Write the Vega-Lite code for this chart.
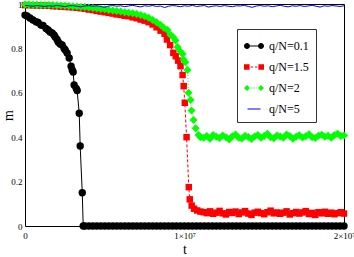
{
  "$schema": "https://vega.github.io/schema/vega-lite/v6.json",
  "width": 319,
  "height": 222,
  "autosize": {"type": "none"},
  "padding": {"left": 25, "top": 4, "right": 10, "bottom": 31},
  "background": "#ffffff",
  "config": {
    "font": "Liberation Serif",
    "view": {"stroke": "#000000", "strokeWidth": 1}
  },
  "datasets": {
    "a": [
      {"t": 0, "m": 0.95}, {"t": 0.13e6, "m": 0.946}, {"t": 0.31e6, "m": 0.937}, {"t": 0.5e6, "m": 0.928},
      {"t": 0.69e6, "m": 0.92}, {"t": 0.82e6, "m": 0.917}, {"t": 1.0e6, "m": 0.905}, {"t": 1.13e6, "m": 0.903},
      {"t": 1.32e6, "m": 0.89}, {"t": 1.45e6, "m": 0.883}, {"t": 1.57e6, "m": 0.874}, {"t": 1.7e6, "m": 0.869},
      {"t": 1.82e6, "m": 0.86}, {"t": 1.89e6, "m": 0.851}, {"t": 2.01e6, "m": 0.84}, {"t": 2.08e6, "m": 0.829},
      {"t": 2.2e6, "m": 0.82}, {"t": 2.33e6, "m": 0.815}, {"t": 2.45e6, "m": 0.8}, {"t": 2.52e6, "m": 0.793},
      {"t": 2.64e6, "m": 0.779}, {"t": 2.77e6, "m": 0.757}, {"t": 2.89e6, "m": 0.72}, {"t": 2.96e6, "m": 0.703},
      {"t": 3.02e6, "m": 0.694}, {"t": 3.08e6, "m": 0.635}, {"t": 3.21e6, "m": 0.62}, {"t": 3.27e6, "m": 0.61},
      {"t": 3.4e6, "m": 0.508}, {"t": 3.46e6, "m": 0.36}, {"t": 3.59e6, "m": 0.15}, {"t": 3.65e6, "m": 0},
      {"t": 3.75e6, "m": 0}, {"t": 4e6, "m": 0}, {"t": 4.25e6, "m": 0}, {"t": 4.5e6, "m": 0}, {"t": 4.75e6, "m": 0},
      {"t": 5e6, "m": 0}, {"t": 5.25e6, "m": 0}, {"t": 5.5e6, "m": 0}, {"t": 5.75e6, "m": 0}, {"t": 6e6, "m": 0},
      {"t": 6.25e6, "m": 0}, {"t": 6.5e6, "m": 0}, {"t": 6.75e6, "m": 0}, {"t": 7e6, "m": 0}, {"t": 7.25e6, "m": 0},
      {"t": 7.5e6, "m": 0}, {"t": 7.75e6, "m": 0}, {"t": 8e6, "m": 0}, {"t": 8.25e6, "m": 0}, {"t": 8.5e6, "m": 0},
      {"t": 8.75e6, "m": 0}, {"t": 9e6, "m": 0}, {"t": 9.25e6, "m": 0}, {"t": 9.5e6, "m": 0}, {"t": 9.75e6, "m": 0},
      {"t": 10e6, "m": 0}, {"t": 10.25e6, "m": 0}, {"t": 10.5e6, "m": 0}, {"t": 10.75e6, "m": 0}, {"t": 11e6, "m": 0},
      {"t": 11.25e6, "m": 0}, {"t": 11.5e6, "m": 0}, {"t": 11.75e6, "m": 0}, {"t": 12e6, "m": 0}, {"t": 12.25e6, "m": 0},
      {"t": 12.5e6, "m": 0}, {"t": 12.75e6, "m": 0}, {"t": 13e6, "m": 0}, {"t": 13.25e6, "m": 0}, {"t": 13.5e6, "m": 0},
      {"t": 13.75e6, "m": 0}, {"t": 14e6, "m": 0}, {"t": 14.25e6, "m": 0}, {"t": 14.5e6, "m": 0}, {"t": 14.75e6, "m": 0},
      {"t": 15e6, "m": 0}, {"t": 15.25e6, "m": 0}, {"t": 15.5e6, "m": 0}, {"t": 15.75e6, "m": 0}, {"t": 16e6, "m": 0},
      {"t": 16.25e6, "m": 0}, {"t": 16.5e6, "m": 0}, {"t": 16.75e6, "m": 0}, {"t": 17e6, "m": 0}, {"t": 17.25e6, "m": 0},
      {"t": 17.5e6, "m": 0}, {"t": 17.75e6, "m": 0}, {"t": 18e6, "m": 0}, {"t": 18.25e6, "m": 0}, {"t": 18.5e6, "m": 0},
      {"t": 18.75e6, "m": 0}, {"t": 19e6, "m": 0}, {"t": 19.25e6, "m": 0}, {"t": 19.5e6, "m": 0}, {"t": 19.75e6, "m": 0},
      {"t": 20e6, "m": 0}
    ],
    "b": [
      {"t": 0, "m": 0.995}, {"t": 0.25e6, "m": 0.995}, {"t": 0.5e6, "m": 0.994}, {"t": 0.75e6, "m": 0.994},
      {"t": 1e6, "m": 0.993}, {"t": 1.25e6, "m": 0.993}, {"t": 1.5e6, "m": 0.992}, {"t": 1.75e6, "m": 0.99},
      {"t": 2e6, "m": 0.99}, {"t": 2.25e6, "m": 0.988}, {"t": 2.5e6, "m": 0.987}, {"t": 2.75e6, "m": 0.986},
      {"t": 3e6, "m": 0.985}, {"t": 3.25e6, "m": 0.983}, {"t": 3.5e6, "m": 0.981}, {"t": 3.75e6, "m": 0.979},
      {"t": 4e6, "m": 0.975}, {"t": 4.25e6, "m": 0.973}, {"t": 4.5e6, "m": 0.969}, {"t": 4.75e6, "m": 0.966},
      {"t": 5e6, "m": 0.963}, {"t": 5.25e6, "m": 0.96}, {"t": 5.5e6, "m": 0.957}, {"t": 5.75e6, "m": 0.953},
      {"t": 6e6, "m": 0.951}, {"t": 6.25e6, "m": 0.947}, {"t": 6.5e6, "m": 0.945}, {"t": 6.75e6, "m": 0.94},
      {"t": 7e6, "m": 0.936}, {"t": 7.25e6, "m": 0.93}, {"t": 7.5e6, "m": 0.925}, {"t": 7.75e6, "m": 0.918},
      {"t": 8e6, "m": 0.908}, {"t": 8.25e6, "m": 0.895}, {"t": 8.5e6, "m": 0.88}, {"t": 8.75e6, "m": 0.866},
      {"t": 8.9e6, "m": 0.84}, {"t": 9.1e6, "m": 0.815}, {"t": 9.3e6, "m": 0.78}, {"t": 9.45e6, "m": 0.765},
      {"t": 9.6e6, "m": 0.745}, {"t": 9.75e6, "m": 0.72}, {"t": 9.88e6, "m": 0.68}, {"t": 9.95e6, "m": 0.63},
      {"t": 10.02e6, "m": 0.555}, {"t": 10.13e6, "m": 0.4}, {"t": 10.27e6, "m": 0.175}, {"t": 10.33e6, "m": 0.12},
      {"t": 10.45e6, "m": 0.092}, {"t": 10.6e6, "m": 0.078}, {"t": 10.8e6, "m": 0.07}, {"t": 11e6, "m": 0.065},
      {"t": 11.2e6, "m": 0.062}, {"t": 11.4e6, "m": 0.058}, {"t": 11.6e6, "m": 0.066}, {"t": 11.8e6, "m": 0.055},
      {"t": 12e6, "m": 0.06}, {"t": 12.2e6, "m": 0.068}, {"t": 12.4e6, "m": 0.057}, {"t": 12.6e6, "m": 0.052},
      {"t": 12.8e6, "m": 0.063}, {"t": 13e6, "m": 0.059}, {"t": 13.2e6, "m": 0.065}, {"t": 13.4e6, "m": 0.054},
      {"t": 13.6e6, "m": 0.061}, {"t": 13.8e6, "m": 0.067}, {"t": 14e6, "m": 0.056}, {"t": 14.2e6, "m": 0.05},
      {"t": 14.4e6, "m": 0.06}, {"t": 14.6e6, "m": 0.064}, {"t": 14.8e6, "m": 0.058}, {"t": 15e6, "m": 0.053},
      {"t": 15.2e6, "m": 0.062}, {"t": 15.4e6, "m": 0.069}, {"t": 15.6e6, "m": 0.057}, {"t": 15.8e6, "m": 0.061},
      {"t": 16e6, "m": 0.055}, {"t": 16.2e6, "m": 0.06}, {"t": 16.4e6, "m": 0.066}, {"t": 16.6e6, "m": 0.052},
      {"t": 16.8e6, "m": 0.058}, {"t": 17e6, "m": 0.063}, {"t": 17.2e6, "m": 0.056}, {"t": 17.4e6, "m": 0.061},
      {"t": 17.6e6, "m": 0.067}, {"t": 17.8e6, "m": 0.054}, {"t": 18e6, "m": 0.059}, {"t": 18.2e6, "m": 0.05},
      {"t": 18.4e6, "m": 0.062}, {"t": 18.6e6, "m": 0.057}, {"t": 18.8e6, "m": 0.064}, {"t": 19e6, "m": 0.055},
      {"t": 19.2e6, "m": 0.06}, {"t": 19.4e6, "m": 0.053}, {"t": 19.6e6, "m": 0.058}, {"t": 19.8e6, "m": 0.062},
      {"t": 20e6, "m": 0.056}
    ],
    "c": [
      {"t": 0, "m": 0.998}, {"t": 0.25e6, "m": 0.998}, {"t": 0.5e6, "m": 0.997}, {"t": 0.75e6, "m": 0.997},
      {"t": 1e6, "m": 0.996}, {"t": 1.25e6, "m": 0.996}, {"t": 1.5e6, "m": 0.995}, {"t": 1.75e6, "m": 0.995},
      {"t": 2e6, "m": 0.994}, {"t": 2.25e6, "m": 0.993}, {"t": 2.5e6, "m": 0.992}, {"t": 2.75e6, "m": 0.991},
      {"t": 3e6, "m": 0.99}, {"t": 3.25e6, "m": 0.989}, {"t": 3.5e6, "m": 0.987}, {"t": 3.75e6, "m": 0.986},
      {"t": 4e6, "m": 0.984}, {"t": 4.25e6, "m": 0.982}, {"t": 4.5e6, "m": 0.98}, {"t": 4.75e6, "m": 0.978},
      {"t": 5e6, "m": 0.976}, {"t": 5.25e6, "m": 0.973}, {"t": 5.5e6, "m": 0.971}, {"t": 5.75e6, "m": 0.968},
      {"t": 6e6, "m": 0.966}, {"t": 6.25e6, "m": 0.963}, {"t": 6.5e6, "m": 0.961}, {"t": 6.75e6, "m": 0.958},
      {"t": 7e6, "m": 0.955}, {"t": 7.25e6, "m": 0.95}, {"t": 7.5e6, "m": 0.945}, {"t": 7.75e6, "m": 0.938},
      {"t": 8e6, "m": 0.928}, {"t": 8.25e6, "m": 0.918}, {"t": 8.5e6, "m": 0.905}, {"t": 8.7e6, "m": 0.893},
      {"t": 8.93e6, "m": 0.883}, {"t": 9.12e6, "m": 0.862}, {"t": 9.3e6, "m": 0.85}, {"t": 9.44e6, "m": 0.836},
      {"t": 9.56e6, "m": 0.806}, {"t": 9.75e6, "m": 0.786}, {"t": 9.88e6, "m": 0.775}, {"t": 9.94e6, "m": 0.75},
      {"t": 10.06e6, "m": 0.738}, {"t": 10.19e6, "m": 0.703}, {"t": 10.25e6, "m": 0.6}, {"t": 10.38e6, "m": 0.568},
      {"t": 10.44e6, "m": 0.52}, {"t": 10.57e6, "m": 0.477}, {"t": 10.7e6, "m": 0.44}, {"t": 10.88e6, "m": 0.41},
      {"t": 11e6, "m": 0.4},
      {"t": 11.2e6, "m": 0.398}, {"t": 11.4e6, "m": 0.405}, {"t": 11.6e6, "m": 0.393}, {"t": 11.8e6, "m": 0.41},
      {"t": 12e6, "m": 0.402}, {"t": 12.2e6, "m": 0.396}, {"t": 12.4e6, "m": 0.408}, {"t": 12.6e6, "m": 0.4},
      {"t": 12.8e6, "m": 0.39}, {"t": 13e6, "m": 0.404}, {"t": 13.2e6, "m": 0.412}, {"t": 13.4e6, "m": 0.398},
      {"t": 13.6e6, "m": 0.394}, {"t": 13.8e6, "m": 0.406}, {"t": 14e6, "m": 0.401}, {"t": 14.2e6, "m": 0.392},
      {"t": 14.4e6, "m": 0.403}, {"t": 14.6e6, "m": 0.41}, {"t": 14.8e6, "m": 0.397}, {"t": 15e6, "m": 0.405},
      {"t": 15.2e6, "m": 0.415}, {"t": 15.4e6, "m": 0.4}, {"t": 15.6e6, "m": 0.395}, {"t": 15.8e6, "m": 0.408},
      {"t": 16e6, "m": 0.403}, {"t": 16.2e6, "m": 0.398}, {"t": 16.4e6, "m": 0.412}, {"t": 16.6e6, "m": 0.405},
      {"t": 16.8e6, "m": 0.393}, {"t": 17e6, "m": 0.402}, {"t": 17.2e6, "m": 0.409}, {"t": 17.4e6, "m": 0.399},
      {"t": 17.6e6, "m": 0.404}, {"t": 17.8e6, "m": 0.413}, {"t": 18e6, "m": 0.4}, {"t": 18.2e6, "m": 0.396},
      {"t": 18.4e6, "m": 0.407}, {"t": 18.6e6, "m": 0.411}, {"t": 18.8e6, "m": 0.402}, {"t": 19e6, "m": 0.406},
      {"t": 19.2e6, "m": 0.398}, {"t": 19.4e6, "m": 0.41}, {"t": 19.6e6, "m": 0.415}, {"t": 19.8e6, "m": 0.405},
      {"t": 20e6, "m": 0.408}
    ],
    "d": [
      {"t": 0, "m": 0.994}, {"t": 0.25e6, "m": 0.992}, {"t": 0.5e6, "m": 0.99}, {"t": 0.75e6, "m": 0.993},
      {"t": 1e6, "m": 0.991}, {"t": 1.25e6, "m": 0.989}, {"t": 1.5e6, "m": 0.992}, {"t": 1.75e6, "m": 0.99},
      {"t": 2e6, "m": 0.994}, {"t": 2.25e6, "m": 0.991}, {"t": 2.5e6, "m": 0.988}, {"t": 2.75e6, "m": 0.992},
      {"t": 3e6, "m": 0.993}, {"t": 3.25e6, "m": 0.99}, {"t": 3.5e6, "m": 0.987}, {"t": 3.75e6, "m": 0.991},
      {"t": 4e6, "m": 0.993}, {"t": 4.25e6, "m": 0.99}, {"t": 4.5e6, "m": 0.992}, {"t": 4.75e6, "m": 0.989},
      {"t": 5e6, "m": 0.985}, {"t": 5.25e6, "m": 0.991}, {"t": 5.5e6, "m": 0.993}, {"t": 5.75e6, "m": 0.99},
      {"t": 6e6, "m": 0.992}, {"t": 6.25e6, "m": 0.988}, {"t": 6.5e6, "m": 0.991}, {"t": 6.75e6, "m": 0.994},
      {"t": 7e6, "m": 0.99}, {"t": 7.25e6, "m": 0.987}, {"t": 7.5e6, "m": 0.992}, {"t": 7.75e6, "m": 0.99},
      {"t": 8e6, "m": 0.993}, {"t": 8.25e6, "m": 0.989}, {"t": 8.5e6, "m": 0.991}, {"t": 8.75e6, "m": 0.984},
      {"t": 9e6, "m": 0.99}, {"t": 9.25e6, "m": 0.993}, {"t": 9.5e6, "m": 0.991}, {"t": 9.75e6, "m": 0.988},
      {"t": 10e6, "m": 0.992}, {"t": 10.25e6, "m": 0.99}, {"t": 10.5e6, "m": 0.994}, {"t": 10.75e6, "m": 0.989},
      {"t": 11e6, "m": 0.991}, {"t": 11.25e6, "m": 0.993}, {"t": 11.5e6, "m": 0.986}, {"t": 11.75e6, "m": 0.99},
      {"t": 12e6, "m": 0.992}, {"t": 12.25e6, "m": 0.989}, {"t": 12.5e6, "m": 0.993}, {"t": 12.75e6, "m": 0.99},
      {"t": 13e6, "m": 0.988}, {"t": 13.25e6, "m": 0.992}, {"t": 13.5e6, "m": 0.991}, {"t": 13.75e6, "m": 0.994},
      {"t": 14e6, "m": 0.989}, {"t": 14.25e6, "m": 0.985}, {"t": 14.5e6, "m": 0.991}, {"t": 14.75e6, "m": 0.993},
      {"t": 15e6, "m": 0.99}, {"t": 15.25e6, "m": 0.992}, {"t": 15.5e6, "m": 0.988}, {"t": 15.75e6, "m": 0.991},
      {"t": 16e6, "m": 0.994}, {"t": 16.25e6, "m": 0.99}, {"t": 16.5e6, "m": 0.987}, {"t": 16.75e6, "m": 0.992},
      {"t": 17e6, "m": 0.99}, {"t": 17.25e6, "m": 0.993}, {"t": 17.5e6, "m": 0.989}, {"t": 17.75e6, "m": 0.991},
      {"t": 18e6, "m": 0.994}, {"t": 18.25e6, "m": 0.99}, {"t": 18.5e6, "m": 0.986}, {"t": 18.75e6, "m": 0.992},
      {"t": 19e6, "m": 0.99}, {"t": 19.25e6, "m": 0.993}, {"t": 19.5e6, "m": 0.991}, {"t": 19.75e6, "m": 0.989},
      {"t": 20e6, "m": 0.992}
    ],
    "k": [
      {"s": "q/N=0.1"}, {"s": "q/N=1.5"}, {"s": "q/N=2"}, {"s": "q/N=5"}
    ]
  },
  "resolve": {"axis": {"x": "independent", "y": "independent"}},
  "layer": [
    {
      "data": {"name": "a"},
      "mark": {"type": "line", "color": "#000000", "strokeWidth": 1},
      "encoding": {
        "x": {
          "field": "t", "type": "quantitative",
          "scale": {"domain": [0, 20000000], "nice": false, "zero": false},
          "axis": {
            "orient": "bottom", "title": "t", "values": [0, 5000000, 10000000, 15000000, 20000000],
            "labelExpr": "datum.value == 0 ? '0' : (datum.value == 10000000 ? '1×10⁷' : (datum.value == 20000000 ? '2×10⁷' : ''))",
            "domain": false, "grid": false, "tickSize": 0, "tickColor": "#000000",
            "labelPadding": 5, "labelFlush": false, "labelOverlap": false, "labelBound": false,
            "labelFont": "Liberation Serif", "labelFontSize": 9, "labelColor": "#000000",
            "titleFont": "Liberation Serif", "titleFontSize": 14, "titleFontWeight": "normal", "titleColor": "#000000", "titlePadding": 2,
            "encode": {"ticks": {"update": {"y2": {"signal": "datum.value % 10000000 == 0 ? -12 : -8"}}}}
          }
        },
        "y": {
          "field": "m", "type": "quantitative",
          "scale": {"domain": [0, 1], "nice": false},
          "axis": {
            "orient": "left", "title": "m", "values": [0, 0.1, 0.2, 0.3, 0.4, 0.5, 0.6, 0.7, 0.8, 0.9, 1],
            "format": "~g",
            "labelExpr": "round(datum.value * 10) % 2 == 0 ? datum.label : ''",
            "domain": false, "grid": false, "tickSize": 0, "tickColor": "#000000",
            "labelPadding": 3, "labelOverlap": false, "labelFlush": false,
            "labelFont": "Liberation Serif", "labelFontSize": 9, "labelColor": "#000000",
            "titleFont": "Liberation Serif", "titleFontSize": 14, "titleFontWeight": "normal", "titleColor": "#000000", "titlePadding": -5,
            "encode": {"ticks": {"update": {"x2": {"signal": "round(datum.value * 10) % 2 == 0 ? 12 : 8"}}}}
          }
        }
      }
    },
    {
      "data": {"name": "a"},
      "mark": {"type": "point", "shape": "circle", "filled": true, "color": "#000000", "size": 55, "opacity": 1},
      "encoding": {
        "x": {
          "field": "t", "type": "quantitative",
          "axis": {
            "orient": "top", "title": null, "values": [0, 5000000, 10000000, 15000000, 20000000],
            "labels": false, "domain": false, "grid": false, "tickSize": 0, "tickColor": "#000000",
            "encode": {"ticks": {"update": {"y2": {"signal": "datum.value % 10000000 == 0 ? 12 : 8"}}}}
          }
        },
        "y": {
          "field": "m", "type": "quantitative",
          "axis": {
            "orient": "right", "title": null, "values": [0, 0.1, 0.2, 0.3, 0.4, 0.5, 0.6, 0.7, 0.8, 0.9, 1],
            "labels": false, "domain": false, "grid": false, "tickSize": 0, "tickColor": "#000000",
            "encode": {"ticks": {"update": {"x2": {"signal": "round(datum.value * 10) % 2 == 0 ? -12 : -8"}}}}
          }
        }
      }
    },
    {
      "data": {"name": "b"},
      "mark": {"type": "line", "color": "#ff0000", "strokeWidth": 1, "strokeDash": [3, 2]},
      "encoding": {
        "x": {"field": "t", "type": "quantitative", "axis": null},
        "y": {"field": "m", "type": "quantitative", "axis": null}
      }
    },
    {
      "data": {"name": "b"},
      "mark": {"type": "point", "shape": "square", "filled": true, "color": "#ff0000", "size": 42, "opacity": 1},
      "encoding": {
        "x": {"field": "t", "type": "quantitative", "axis": null},
        "y": {"field": "m", "type": "quantitative", "axis": null}
      }
    },
    {
      "data": {"name": "c"},
      "mark": {"type": "line", "color": "#00ff00", "strokeWidth": 1, "strokeDash": [1, 2]},
      "encoding": {
        "x": {"field": "t", "type": "quantitative", "axis": null},
        "y": {"field": "m", "type": "quantitative", "axis": null}
      }
    },
    {
      "data": {"name": "c"},
      "mark": {"type": "point", "shape": "diamond", "filled": true, "color": "#00ff00", "size": 64, "opacity": 1},
      "encoding": {
        "x": {"field": "t", "type": "quantitative", "axis": null},
        "y": {"field": "m", "type": "quantitative", "axis": null}
      }
    },
    {
      "data": {"name": "d"},
      "mark": {"type": "line", "color": "#0000ff", "strokeWidth": 1},
      "encoding": {
        "x": {"field": "t", "type": "quantitative", "axis": null},
        "y": {"field": "m", "type": "quantitative", "axis": null}
      }
    },
    {
      "data": {"name": "k"},
      "mark": {"type": "point", "filled": true, "opacity": 0},
      "encoding": {
        "color": {
          "field": "s", "type": "nominal",
          "scale": {"domain": ["q/N=0.1", "q/N=1.5", "q/N=2", "q/N=5"], "range": ["#000000", "#ff0000", "#00ff00", "#0000ff"]},
          "legend": {
            "orient": "none", "legendX": 212, "legendY": 25, "title": null,
            "strokeColor": "#333333", "fillColor": "#ffffff", "padding": 7, "rowPadding": 5,
            "labelFont": "Liberation Serif", "labelFontSize": 12, "labelColor": "#000000", "labelOffset": 5,
            "symbolSize": 400, "symbolOpacity": 1, "symbolStrokeWidth": 0
          }
        },
        "shape": {
          "field": "s", "type": "nominal",
          "scale": {
            "domain": ["q/N=0.1", "q/N=1.5", "q/N=2", "q/N=5"],
            "range": [
              "M-0.4,-0.05H0.4V0.05H-0.4Z M-1,0A0.3,0.3 0 1,0 -0.4,0A0.3,0.3 0 1,0 -1,0Z M0.4,0A0.3,0.3 0 1,0 1,0A0.3,0.3 0 1,0 0.4,0Z",
              "M-1,-0.28H-0.44V0.28H-1Z M0.44,-0.28H1V0.28H0.44Z M-0.32,-0.05H-0.1V0.05H-0.32Z M0.1,-0.05H0.32V0.05H0.1Z",
              "M-0.7,-0.3L-0.4,0L-0.7,0.3L-1,0Z M0.7,-0.3L1,0L0.7,0.3L0.4,0Z M-0.27,-0.05H-0.17V0.05H-0.27Z M-0.05,-0.05H0.05V0.05H-0.05Z M0.17,-0.05H0.27V0.05H0.17Z",
              "M-0.65,-0.05H0.65V0.05H-0.65Z"
            ]
          },
          "legend": {
            "orient": "none", "legendX": 212, "legendY": 25, "title": null,
            "strokeColor": "#333333", "fillColor": "#ffffff", "padding": 7, "rowPadding": 5,
            "labelFont": "Liberation Serif", "labelFontSize": 12, "labelColor": "#000000", "labelOffset": 5,
            "symbolSize": 400, "symbolOpacity": 1, "symbolStrokeWidth": 0
          }
        }
      }
    }
  ]
}
